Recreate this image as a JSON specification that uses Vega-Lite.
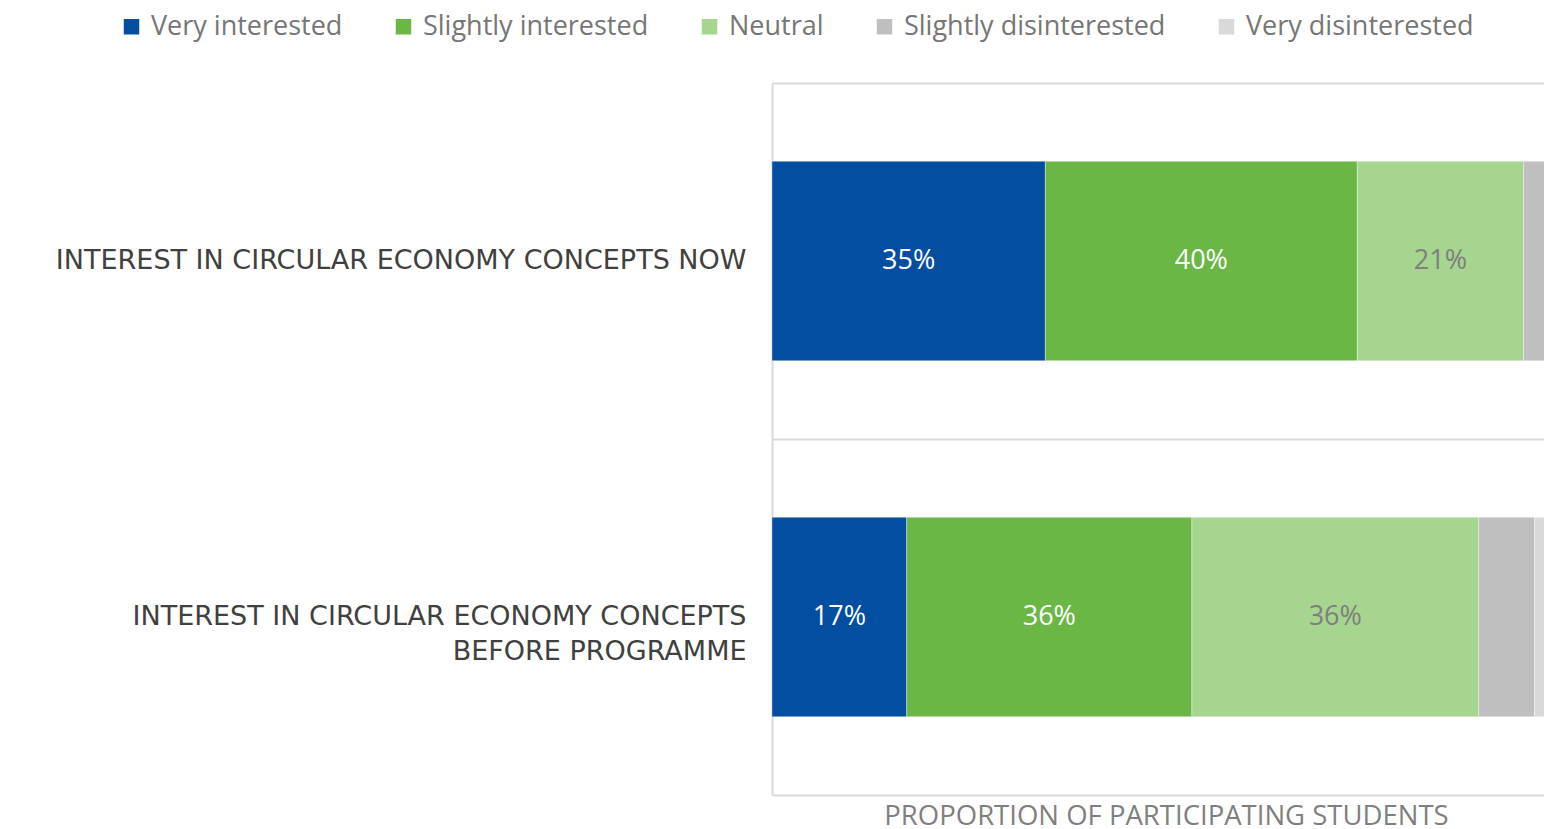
{
  "$schema": "https://vega.github.io/schema/vega-lite/v6.json",
  "autosize": {"type": "none"},
  "padding": {"left": 772, "top": 83, "right": 0, "bottom": 34},
  "width": 772,
  "height": 712,
  "background": "white",
  "config": {
    "font": "Open Sans",
    "view": {"stroke": null}
  },
  "data": {
    "values": [
      {"question": "INTEREST  IN CIRCULAR ECONOMY CONCEPTS NOW", "level": "Very interested", "rank": 1, "pct": 0.347},
      {"question": "INTEREST  IN CIRCULAR ECONOMY CONCEPTS NOW", "level": "Slightly interested", "rank": 2, "pct": 0.396},
      {"question": "INTEREST  IN CIRCULAR ECONOMY CONCEPTS NOW", "level": "Neutral", "rank": 3, "pct": 0.211},
      {"question": "INTEREST  IN CIRCULAR ECONOMY CONCEPTS NOW", "level": "Slightly disinterested", "rank": 4, "pct": 0.040},
      {"question": "INTEREST  IN CIRCULAR ECONOMY CONCEPTS NOW", "level": "Very disinterested", "rank": 5, "pct": 0.006},
      {"question": "INTEREST  IN CIRCULAR ECONOMY CONCEPTS BEFORE PROGRAMME", "level": "Very interested", "rank": 1, "pct": 0.171},
      {"question": "INTEREST  IN CIRCULAR ECONOMY CONCEPTS BEFORE PROGRAMME", "level": "Slightly interested", "rank": 2, "pct": 0.362},
      {"question": "INTEREST  IN CIRCULAR ECONOMY CONCEPTS BEFORE PROGRAMME", "level": "Neutral", "rank": 3, "pct": 0.364},
      {"question": "INTEREST  IN CIRCULAR ECONOMY CONCEPTS BEFORE PROGRAMME", "level": "Slightly disinterested", "rank": 4, "pct": 0.071},
      {"question": "INTEREST  IN CIRCULAR ECONOMY CONCEPTS BEFORE PROGRAMME", "level": "Very disinterested", "rank": 5, "pct": 0.032}
    ]
  },
  "transform": [
    {"stack": "pct", "groupby": ["question"], "sort": [{"field": "rank", "order": "ascending"}], "as": ["x0", "x1"]},
    {"calculate": "(datum.x0 + datum.x1) / 2", "as": "xmid"}
  ],
  "encoding": {
    "y": {
      "field": "question",
      "type": "nominal",
      "sort": ["INTEREST  IN CIRCULAR ECONOMY CONCEPTS NOW", "INTEREST  IN CIRCULAR ECONOMY CONCEPTS BEFORE PROGRAMME"],
      "scale": {"paddingInner": 0, "paddingOuter": 0},
      "axis": {
        "title": null,
        "ticks": false,
        "grid": true,
        "bandPosition": 0,
        "gridColor": "#d9d9d9",
        "gridWidth": 2,
        "domain": true,
        "domainColor": "#d9d9d9",
        "domainWidth": 2,
        "labelFont": "DejaVu Sans",
        "labelFontSize": 27,
        "labelColor": "#404040",
        "labelPadding": 26,
        "labelLimit": 800,
        "labelLineHeight": 35,
        "labelExpr": "datum.label == 'INTEREST  IN CIRCULAR ECONOMY CONCEPTS BEFORE PROGRAMME' ? ['INTEREST  IN CIRCULAR ECONOMY CONCEPTS', 'BEFORE PROGRAMME'] : datum.label"
      }
    }
  },
  "layer": [
    {
      "mark": {"type": "bar", "height": {"band": 0.56}, "clip": true, "stroke": "white", "strokeWidth": 0.6, "strokeOpacity": 0.6},
      "encoding": {
        "x": {
          "field": "x0",
          "type": "quantitative",
          "scale": {"domain": [0, 0.98], "nice": false, "zero": true},
          "axis": {
            "title": "PROPORTION OF PARTICIPATING STUDENTS",
            "titleFont": "Open Sans",
            "titleFontSize": 27.5,
            "titleFontWeight": "normal",
            "titleColor": "#7f7f7f",
            "titleX": 394,
            "titlePadding": 7,
            "labels": false,
            "ticks": false,
            "grid": false,
            "domain": true,
            "domainColor": "#d9d9d9",
            "domainWidth": 2
          }
        },
        "x2": {"field": "x1"},
        "color": {
          "field": "level",
          "type": "nominal",
          "scale": {
            "domain": ["Very interested", "Slightly interested", "Neutral", "Slightly disinterested", "Very disinterested"],
            "range": ["#044ea1", "#6ab746", "#a5d58e", "#bfbfbf", "#d9d9d9"]
          },
          "legend": {
            "title": null,
            "orient": "none",
            "direction": "horizontal",
            "legendX": -654,
            "legendY": -70,
            "symbolType": "square",
            "symbolSize": 240,
            "symbolStrokeWidth": 0,
            "labelFont": "Open Sans",
            "labelFontSize": 27,
            "labelColor": "#767676",
            "labelOffset": 6,
            "columnPadding": 47,
            "labelLimit": 500
          }
        }
      }
    },
    {
      "transform": [{"filter": "datum.rank <= 3"}],
      "mark": {"type": "text", "font": "Open Sans", "fontSize": 27, "align": "center", "baseline": "middle", "clip": true},
      "encoding": {
        "x": {"field": "xmid", "type": "quantitative"},
        "text": {"field": "pct", "type": "quantitative", "format": ".0%"},
        "color": {"condition": {"test": "datum.level == 'Neutral'", "value": "#7f7f7f"}, "value": "#ffffff"}
      }
    }
  ]
}
